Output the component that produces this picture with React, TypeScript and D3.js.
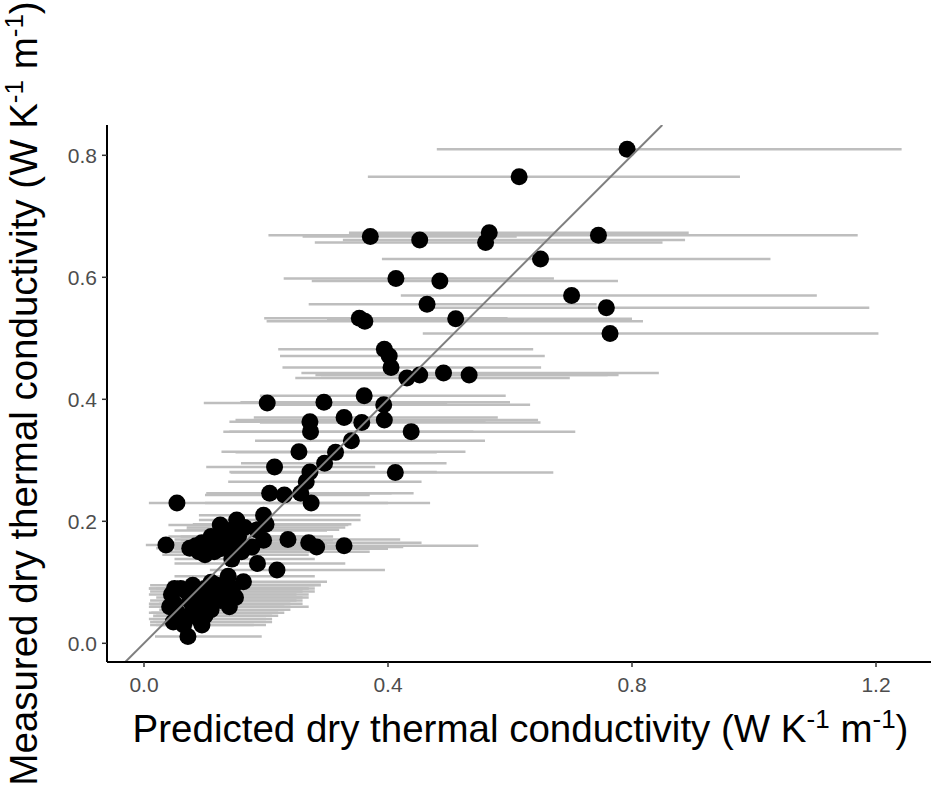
import React from "react";
import * as d3 from "d3";

// predicted (x), measured (y), lower / upper bounds of prediction interval
const predicted = [
  0.792, 0.615, 0.371, 0.452, 0.566, 0.560, 0.745, 0.650, 0.413, 0.485,
  0.701, 0.464, 0.758, 0.353, 0.362, 0.511, 0.764, 0.394, 0.402, 0.405,
  0.431, 0.452, 0.491, 0.533, 0.202, 0.295, 0.361, 0.393, 0.328, 0.357,
  0.394, 0.272, 0.273, 0.438, 0.340, 0.254, 0.314, 0.296, 0.214, 0.412,
  0.272, 0.266, 0.206, 0.230, 0.257, 0.054, 0.274, 0.036, 0.075, 0.085,
  0.095, 0.105, 0.115, 0.125, 0.328, 0.236, 0.270, 0.283, 0.186, 0.218,
  0.152, 0.196, 0.125, 0.185, 0.196, 0.140, 0.155, 0.130, 0.165, 0.110,
  0.200, 0.145, 0.177, 0.144, 0.160, 0.100, 0.090, 0.072, 0.163, 0.138,
  0.140, 0.045, 0.050, 0.055, 0.060, 0.065, 0.060, 0.070, 0.075, 0.080,
  0.085, 0.090, 0.095, 0.100, 0.105, 0.110, 0.115, 0.120, 0.125, 0.130,
  0.080, 0.050, 0.100, 0.075, 0.110, 0.145, 0.150, 0.095, 0.042, 0.048
];
const measured = [
  0.810, 0.765, 0.667, 0.661, 0.673, 0.657, 0.669, 0.630, 0.598, 0.594,
  0.570, 0.556, 0.550, 0.533, 0.528, 0.532, 0.508, 0.482, 0.471, 0.452,
  0.435, 0.440, 0.443, 0.440, 0.394, 0.395, 0.406, 0.391, 0.370, 0.362,
  0.366, 0.363, 0.347, 0.347, 0.332, 0.314, 0.313, 0.295, 0.289, 0.280,
  0.281, 0.265, 0.246, 0.243, 0.246, 0.230, 0.230, 0.161, 0.156, 0.160,
  0.165, 0.158, 0.150, 0.155, 0.160, 0.170, 0.165, 0.158, 0.131, 0.120,
  0.202, 0.210, 0.194, 0.186, 0.169, 0.185, 0.175, 0.170, 0.190, 0.175,
  0.195, 0.160, 0.158, 0.138, 0.150, 0.145, 0.150, 0.011, 0.101, 0.110,
  0.060, 0.080, 0.065, 0.050, 0.040, 0.030, 0.090, 0.085, 0.070, 0.060,
  0.050, 0.040, 0.075, 0.090, 0.065, 0.055, 0.080, 0.095, 0.070, 0.085,
  0.095, 0.090, 0.045, 0.045, 0.100, 0.090, 0.075, 0.030, 0.060, 0.035
];
const lower = [
  0.480, 0.367, 0.260, 0.326, 0.336, 0.280, 0.204, 0.390, 0.229, 0.275,
  0.421, 0.270, 0.470, 0.197, 0.201, 0.300, 0.457, 0.220, 0.223, 0.227,
  0.248, 0.281, 0.258, 0.290, 0.098, 0.158, 0.190, 0.200, 0.180, 0.190,
  0.150, 0.140, 0.130, 0.140, 0.182, 0.127, 0.150, 0.159, 0.102, 0.142,
  0.140, 0.138, 0.102, 0.100, 0.119, 0.008, 0.100, 0.003, 0.020, 0.030,
  0.040, 0.040, 0.050, 0.050, 0.120, 0.090, 0.100, 0.100, 0.050, 0.108,
  0.090, 0.090, 0.040, 0.070, 0.060, 0.050, 0.060, 0.050, 0.070, 0.040,
  0.080, 0.060, 0.070, 0.050, 0.060, 0.030, 0.030, 0.018, 0.060, 0.050,
  0.050, 0.008, 0.008, 0.008, 0.008, 0.010, 0.008, 0.010, 0.010, 0.010,
  0.012, 0.015, 0.020, 0.020, 0.025, 0.025, 0.030, 0.035, 0.035, 0.040,
  0.010, 0.008, 0.020, 0.015, 0.040, 0.050, 0.050, 0.020, 0.008, 0.010
];
const upper = [
  1.242, 0.977, 0.611, 0.887, 0.893, 0.850, 1.170, 1.027, 0.672, 0.777,
  1.103, 0.742, 1.189, 0.596, 0.818, 0.800, 1.204, 0.638, 0.657, 0.651,
  0.698, 0.778, 0.844, 0.760, 0.497, 0.600, 0.593, 0.633, 0.580, 0.650,
  0.646, 0.560, 0.540, 0.707, 0.559, 0.527, 0.480, 0.496, 0.379, 0.671,
  0.480, 0.455, 0.442, 0.370, 0.406, 0.400, 0.469, 0.300, 0.300, 0.320,
  0.330, 0.350, 0.370, 0.400, 0.548, 0.420, 0.455, 0.425, 0.330, 0.395,
  0.355, 0.355, 0.335, 0.320, 0.310, 0.300, 0.310, 0.290, 0.330, 0.280,
  0.340, 0.290, 0.300, 0.280, 0.290, 0.270, 0.260, 0.193, 0.300, 0.280,
  0.270, 0.250, 0.240, 0.220, 0.200, 0.180, 0.270, 0.260, 0.250, 0.240,
  0.230, 0.210, 0.270, 0.280, 0.260, 0.240, 0.270, 0.290, 0.260, 0.280,
  0.280, 0.260, 0.220, 0.210, 0.290, 0.270, 0.260, 0.200, 0.230, 0.210
];

const xTicks = [0.0, 0.4, 0.8, 1.2];
const yTicks = [0.0, 0.2, 0.4, 0.6, 0.8];

const W = 931;
const H = 788;
const FONT = "'Liberation Sans', Arial, Helvetica, sans-serif";

export default function App() {
  const left = 107, right = 930, top = 125, bottom = 662;
  const k = 610;
  const x = d3.scaleLinear().domain([(left - 144) / k, (right - 144) / k]).range([left, right]);
  const y = d3.scaleLinear().domain([(643.3 - bottom) / k, (643.3 - top) / k]).range([bottom, top]);
  const data = predicted.map((p, i) => ({ p, m: measured[i], lo: lower[i], hi: upper[i] }));
  const lineLo = Math.max(x.domain()[0], y.domain()[0]);
  const lineHi = Math.min(x.domain()[1], y.domain()[1]);
  const fmt = d3.format(".1f");
  const titleSize = 38.5;
  const supSize = 26;
  const supDy = 14;

  return (
    <svg width={W} height={H} style={{ position: "absolute", left: 0, top: 0, background: "#fff" }} fontFamily={FONT}>
      <rect x={0} y={0} width={W} height={H} fill="#fff" />
      <defs>
        <clipPath id="panel">
          <rect x={left} y={top} width={right - left} height={bottom - top} />
        </clipPath>
      </defs>
      <g clipPath="url(#panel)">
        {data.map((d, i) => (
          <line key={"e" + i} x1={x(d.lo)} x2={x(d.hi)} y1={y(d.m)} y2={y(d.m)} stroke="#BEBEBE" strokeWidth={2.5} />
        ))}
        {data.map((d, i) => (
          <circle key={"c" + i} cx={x(d.p)} cy={y(d.m)} r={8.5} fill="#000" />
        ))}
        <line x1={x(lineLo)} y1={y(lineLo)} x2={x(lineHi)} y2={y(lineHi)} stroke="#7F7F7F" strokeWidth={2} />
      </g>
      {/* axes */}
      <line x1={left} x2={left} y1={top} y2={bottom} stroke="#000" strokeWidth={2} />
      <line x1={left} x2={right + 2} y1={bottom} y2={bottom} stroke="#000" strokeWidth={2} />
      {xTicks.map((t) => (
        <g key={"xt" + t}>
          <line x1={x(t)} x2={x(t)} y1={bottom} y2={bottom + 5} stroke="#333" strokeWidth={1.5} />
          <text x={x(t)} y={bottom + 30} textAnchor="middle" fontSize={21} fill="#4D4D4D">{fmt(t)}</text>
        </g>
      ))}
      {yTicks.map((t) => (
        <g key={"yt" + t}>
          <line x1={left - 5} x2={left} y1={y(t)} y2={y(t)} stroke="#333" strokeWidth={1.5} />
          <text x={left - 10} y={y(t) + 7.5} textAnchor="end" fontSize={21} fill="#4D4D4D">{fmt(t)}</text>
        </g>
      ))}
      <text x={(left + right) / 2 + 2} y={742} textAnchor="middle" fontSize={titleSize} fill="#000">
        Predicted dry thermal conductivity (W K
        <tspan fontSize={supSize} dy={-supDy}>-1</tspan>
        <tspan dy={supDy}> m</tspan>
        <tspan fontSize={supSize} dy={-supDy}>-1</tspan>
        <tspan dy={supDy}>)</tspan>
      </text>
      <text transform={`translate(37, ${(top + bottom) / 2}) rotate(-90)`} textAnchor="middle" fontSize={titleSize} fill="#000">
        Measured dry thermal conductivity (W K
        <tspan fontSize={supSize} dy={-supDy}>-1</tspan>
        <tspan dy={supDy}> m</tspan>
        <tspan fontSize={supSize} dy={-supDy}>-1</tspan>
        <tspan dy={supDy}>)</tspan>
      </text>
    </svg>
  );
}
